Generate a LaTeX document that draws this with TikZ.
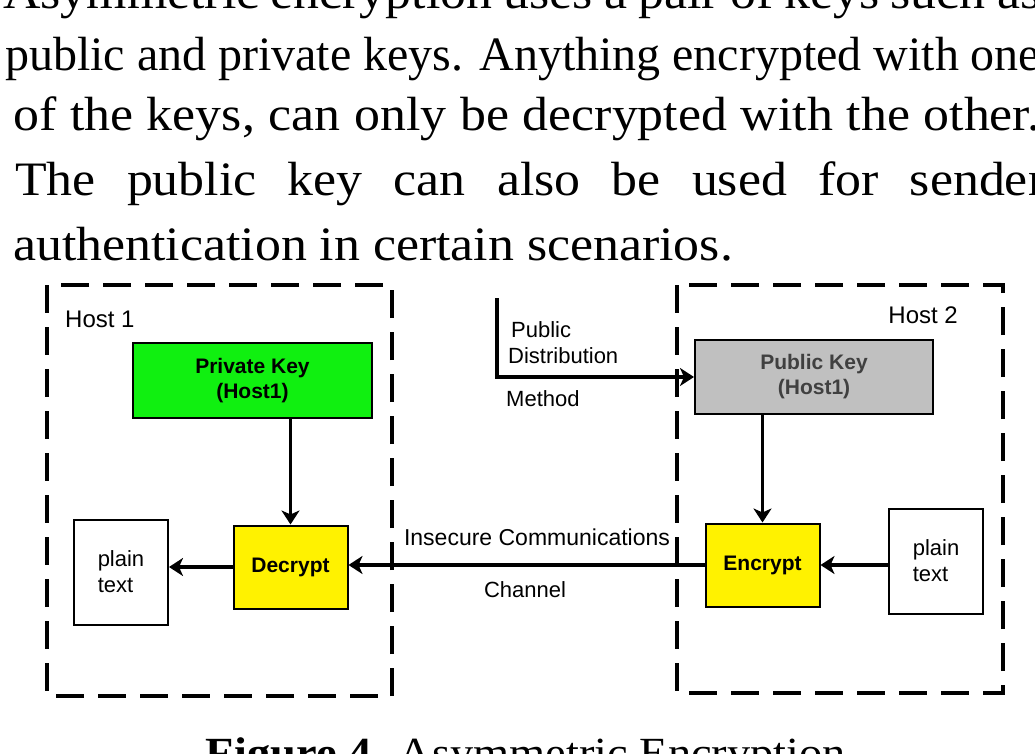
\documentclass[tikz,border=0pt]{standalone}
\usepackage{fontspec}
\setmainfont{Liberation Serif}[FakeStretch=1.08]
\newfontfamily\tightserif{Liberation Serif}
\newfontfamily\diagfont{Liberation Sans}
\usepackage{tikz}
\usetikzlibrary{arrows.meta,%
                shapes,positioning}
\definecolor{keygreen}{RGB}{16,240,16}
\definecolor{keygray}{RGB}{192,192,192}

\begin{document}
\begin{tikzpicture}[x=1pt,y=-1pt,
  bodyline/.style={anchor=base west,inner sep=0pt,font=\fontsize{48}{58}\selectfont},
  hostbox/.style={line width=4pt,dash pattern=on 28pt off 14pt},
  keybox/.style={draw,line width=2pt,inner sep=0pt,align=center,minimum width=239pt,minimum height=75pt,
                 font=\diagfont\bfseries\fontsize{21}{25}\selectfont},
  cryptbox/.style={draw,line width=2pt,fill=yellow,inner sep=0pt,minimum width=114pt,minimum height=83pt,
                   font=\diagfont\bfseries\fontsize{21}{25}\selectfont},
  plainbox/.style={draw,line width=2pt,fill=white,inner sep=0pt,align=left,minimum width=94pt,minimum height=105pt,
                   font=\diagfont\fontsize{22}{26}\selectfont},
  lbl/.style={inner sep=0pt,font=\diagfont\fontsize{22}{26}\selectfont},
  flow/.style={line width=3.5pt,-{Stealth[length=14pt,width=18pt,inset=4pt]}}]
\useasboundingbox (0,0) rectangle (1035,754);
\clip (0,0) rectangle (1035,754);

\node[bodyline] (line1) at (3,9) {\makebox[1037pt][s]{Asymmetric encryption uses a pair of keys such as}};
\node[bodyline] (line2) at (5,71) {\tightserif\makebox[1035pt][s]{public and private keys. Anything encrypted with one}};
\node[bodyline] (line3) at (13,131) {\makebox[1027pt][s]{of the keys, can only be decrypted with the other.}};
\node[bodyline] (line4) at (15,195) {\makebox[1030pt][s]{The public key can also be used for sender}};
\node[bodyline] (line5) at (13,260) {authentication in certain scenarios.};

\draw[hostbox] (47,285) rectangle (392,696);
\draw[hostbox] (677,285) rectangle (1003,693);
\node[lbl,anchor=base west,font=\diagfont\fontsize{24}{28}\selectfont] (host1) at (65,327) {Host 1};
\node[lbl,anchor=base east,font=\diagfont\fontsize{24}{28}\selectfont] (host2) at (958,323) {Host 2};

\node[keybox,fill=keygreen] (privkey) at (252.5,380.5) {Private Key\\(Host1)};
\node[keybox,fill=keygray,text=black!75,minimum width=238pt,minimum height=74pt] (pubkey) at (814,377) {Public Key\\(Host1)};
\node[cryptbox] (decrypt) at (290.5,567) {Decrypt};
\node[cryptbox] (encrypt) at (762.5,565) {Encrypt};
\node[plainbox] (plainL) at (121,572) {plain\\text};
\node[plainbox] (plainR) at (936,561) {plain\\text};

\coordinate (distTop) at (497,298);
\node[lbl,anchor=base west] (distA) at (511,337) {Public};
\node[lbl,anchor=base west] (distB) at (508,363) {Distribution};
\node[lbl,anchor=base west] (distC) at (506,406) {Method};
\node[lbl,anchor=base,font=\diagfont\fontsize{23}{27}\selectfont] (chanA) at (537,545) {Insecure Communications};
\node[lbl,anchor=base] (chanB) at (525,597) {Channel};

\draw[flow] (distTop) |- (pubkey.west);
\draw[flow] (privkey.south -| decrypt.north) -- (decrypt.north);
\draw[flow] (pubkey.south -| encrypt.north) -- (encrypt.north);
\draw[flow] (encrypt.west) -- (encrypt.west -| decrypt.east);
\draw[flow] (decrypt.west) -- (decrypt.west -| plainL.east);
\draw[flow] (plainR.west |- encrypt.east) -- (encrypt.east);

\node[anchor=base,inner sep=0pt,font=\fontsize{43}{50}\selectfont] (caption) at (526,767) {\textbf{Figure 4.} Asymmetric Encryption};
\end{tikzpicture}
\end{document}
